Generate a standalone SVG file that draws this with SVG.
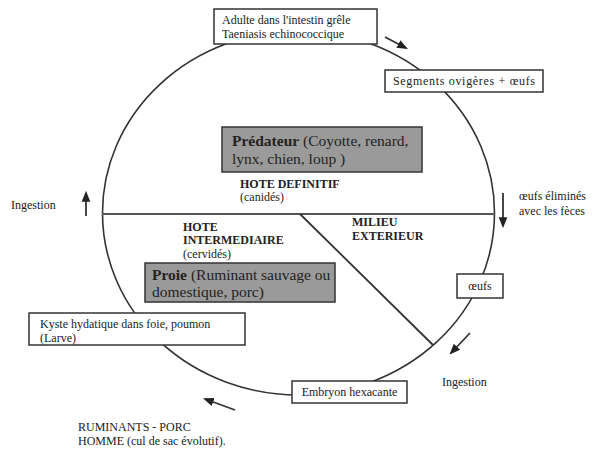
<svg xmlns="http://www.w3.org/2000/svg" width="595" height="452" viewBox="0 0 595 452">
<defs>
<style>
.t{font-family:"Liberation Serif","Times New Roman",serif;font-size:12px;fill:#222}
.b{font-weight:bold}
.big{font-size:15.5px}
.box{fill:#fff;stroke:#333;stroke-width:1.5}
.gbox{fill:#9a9a9a;stroke:#333;stroke-width:1.5}
.ln{stroke:#333;fill:none}
</style>
<marker id="ah" viewBox="0 0 10 10" refX="8" refY="5" markerWidth="6" markerHeight="6" orient="auto-start-reverse">
<path d="M0,1 L10,5 L0,9 z" fill="#222"/>
</marker>
</defs>
<rect width="595" height="452" fill="#fff"/>
<g id="connectors">
<ellipse cx="298.5" cy="213" rx="196" ry="182" class="ln" stroke-width="1.6"/>
<line x1="102" y1="214" x2="495" y2="214" stroke="#555" stroke-width="2"/>
<line x1="300" y1="214" x2="433" y2="345" class="ln" stroke-width="1.8"/>
<line x1="385" y1="37" x2="406" y2="48" class="ln" stroke-width="1.8" marker-end="url(#ah)"/>
<line x1="86" y1="216" x2="86" y2="193" class="ln" stroke-width="1.8" marker-end="url(#ah)"/>
<line x1="503" y1="193" x2="503" y2="226" class="ln" stroke-width="1.8" marker-end="url(#ah)"/>
<line x1="470" y1="333" x2="451" y2="353" class="ln" stroke-width="1.8" marker-end="url(#ah)"/>
<line x1="235" y1="410" x2="205" y2="399" class="ln" stroke-width="1.8" marker-end="url(#ah)"/>
</g>
<g id="adulte">
<rect x="214" y="9" width="163" height="35" class="box"/>
<text class="t" x="222" y="24">Adulte dans l'intestin grêle</text>
<text class="t" x="222" y="38">Taeniasis echinococcique</text>
</g>
<g id="segments">
<rect x="385" y="70" width="158" height="22" class="box"/>
<text class="t" x="393" y="85" textLength="142">Segments ovigères + œufs</text>
</g>
<g id="predateur">
<rect x="222" y="127" width="200" height="45" class="gbox"/>
<text class="t big" x="232" y="146"><tspan class="b">Prédateur</tspan> (Coyotte, renard,</text>
<text class="t big" x="232" y="164">lynx, chien, loup )</text>
</g>
<g id="hote-definitif">
<text class="t b" x="240" y="188">HOTE DEFINITIF</text>
<text class="t" x="240" y="201">(canidés)</text>
</g>
<g id="ingestion-left">
<text class="t" x="11" y="209">Ingestion</text>
</g>
<g id="oeufs-elimines">
<text class="t" x="519" y="200">œufs éliminés</text>
<text class="t" x="519" y="215">avec les fèces</text>
</g>
<g id="milieu">
<text class="t b" x="352" y="226">MILIEU</text>
<text class="t b" x="352" y="240">EXTERIEUR</text>
</g>
<g id="hote-intermediaire">
<text class="t b" x="183" y="231">HOTE</text>
<text class="t b" x="183" y="244">INTERMEDIAIRE</text>
<text class="t" x="183" y="258">(cervidés)</text>
</g>
<g id="proie">
<rect x="145" y="263" width="190" height="39" class="gbox"/>
<text class="t big" x="152" y="280"><tspan class="b">Proie</tspan> (Ruminant sauvage ou</text>
<text class="t big" x="152" y="297">domestique, porc)</text>
</g>
<g id="oeufs">
<rect x="457" y="274" width="46" height="24" class="box"/>
<text class="t" x="480" y="290" text-anchor="middle">œufs</text>
</g>
<g id="kyste">
<rect x="29" y="313" width="216" height="32" class="box"/>
<text class="t" x="40" y="328">Kyste hydatique dans foie, poumon</text>
<text class="t" x="40" y="342">(Larve)</text>
</g>
<g id="embryon">
<rect x="292" y="381" width="115" height="22" class="box"/>
<text class="t" x="349.5" y="396" text-anchor="middle">Embryon hexacante</text>
</g>
<g id="ingestion-right">
<text class="t" x="442" y="386">Ingestion</text>
</g>
<g id="ruminants">
<text class="t" x="78" y="431">RUMINANTS  - PORC</text>
<text class="t" x="78" y="445">HOMME (cul de sac évolutif).</text>
</g>
</svg>
